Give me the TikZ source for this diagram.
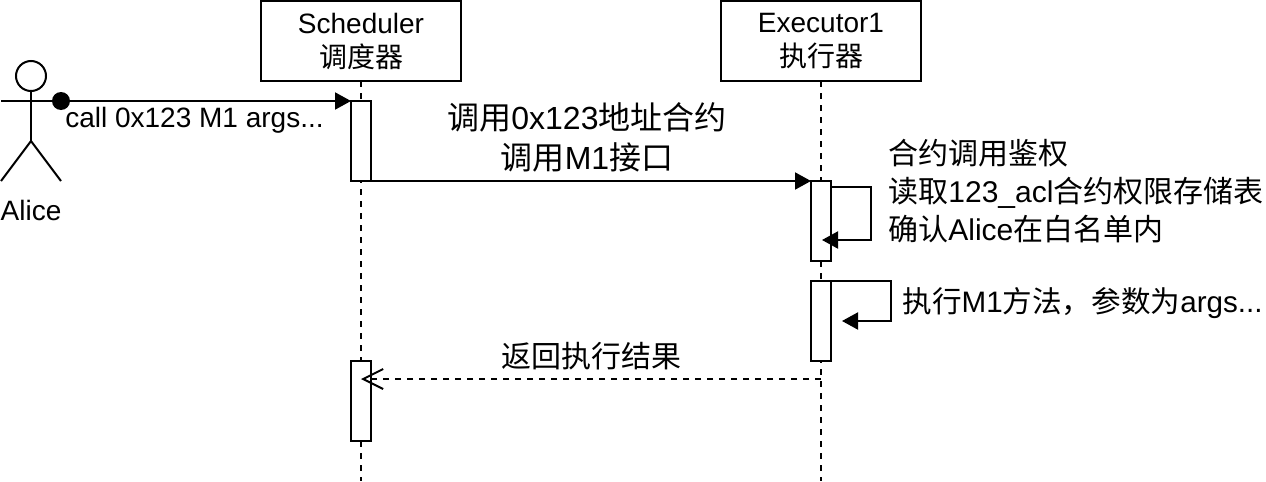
\documentclass[tikz,border=0pt]{standalone}
\usepackage{fontspec}
\setmainfont{Liberation Sans}
\newfontfamily\cjk{Noto Sans CJK SC}
\usetikzlibrary{arrows.meta}
\tikzset{
  lifebox/.style={draw, fill=white, line width=1pt, minimum width=100pt, minimum height=40pt, align=center, inner sep=0pt, outer sep=0pt, font=\fontsize{14}{17}\selectfont},
  activation/.style={draw, fill=white, line width=1pt, minimum width=10pt, minimum height=40pt, inner sep=0pt, outer sep=0pt},
  lifeline/.style={line width=1pt, dash pattern=on 3pt off 3pt},
  message/.style={line width=1pt, -{Triangle[length=8pt,width=8.5pt]}},
  reply/.style={line width=1pt, dash pattern=on 3pt off 3pt, -{Straight Barb[length=10pt,width=10pt]}},
  label/.style={inner sep=0pt, align=center},
  actorline/.style={line width=1pt}
}
\begin{document}
\begin{tikzpicture}[x=0.5pt, y=-0.5pt]
\useasboundingbox (0,0) rectangle (1266,482);
% lifelines
\node[lifebox] (schedBox) at (361,41) {Scheduler\\{\cjk 调度器}};
\node[lifebox] (execBox) at (821,41) {Executor1\\{\cjk 执行器}};
\coordinate (schedEnd) at (361,481);
\coordinate (execEnd) at (821,481);
\draw[lifeline] (schedBox) -- (schedEnd);
\draw[lifeline] (execBox) -- (execEnd);
% actor
\node[draw, circle, actorline, minimum size=15pt, inner sep=0pt, outer sep=0pt] (aliceHead) at (31,76) {};
\coordinate (aliceHip) at (31,141);
\coordinate (aliceArmL) at (1,101);
\coordinate (aliceArmR) at (61,101);
\coordinate (aliceLegL) at (1,181);
\coordinate (aliceLegR) at (61,181);
\draw[actorline] (aliceHead) -- (aliceHip);
\draw[actorline] (aliceArmL) -- (aliceArmR);
\draw[actorline] (aliceLegL) -- (aliceHip) -- (aliceLegR);
\node[label, font=\fontsize{14}{17}\selectfont] (aliceName) at (31,210) {Alice};
% activations
\node[activation] (schedA) at (361,141) {};
\node[activation] (schedB) at (361,401) {};
\node[activation] (execA) at (821,221) {};
\node[activation] (execB) at (821,321) {};
% messages
\node[fill, circle, minimum size=9pt, inner sep=0pt] (callDot) at (61,101) {};
\draw[message] (callDot.center) -- (schedA.north west);
\draw[message] (schedA.south east) -- (execA.north west);
% self calls
\coordinate (checkOut) at (831,187);
\coordinate (checkC) at (871,187);
\coordinate (checkD) at (871,240);
\coordinate (checkIn) at (822,240);
\draw[message] (checkOut) -- (checkC) -- (checkD) -- (checkIn);
\coordinate (runC) at (891,281);
\coordinate (runD) at (891,321);
\coordinate (runIn) at (842,321);
\draw[message] (execB.north east) -- (runC) -- (runD) -- (runIn);
% return
\coordinate (backFrom) at (821,379);
\coordinate (backTo) at (361,379);
\draw[reply] (backFrom) -- (backTo);
% labels
\node[label, font=\fontsize{14}{17}\selectfont] (callText) at (194.5,120) {call 0x123 M1 args...};
\node[label, font=\fontsize{16}{20}\selectfont] (invokeText) at (587,137) {{\cjk 调用}0x123{\cjk 地址合约}\\{\cjk 调用}M1{\cjk 接口}};
\node[label, anchor=west, align=left, font=\fontsize{15}{19}\selectfont] (authText) at (888,191) {{\cjk 合约调用鉴权}\\{\cjk 读取}123\_acl{\cjk 合约权限存储表}\\{\cjk 确认}Alice{\cjk 在白名单内}};
\node[label, anchor=west, font=\fontsize{14.8}{19}\selectfont] (runText) at (902,303) {{\cjk 执行}M1{\cjk 方法，参数为}args...};
\node[label, font=\fontsize{15}{19}\selectfont] (backText) at (591,356) {{\cjk 返回执行结果}};
\end{tikzpicture}
\end{document}
